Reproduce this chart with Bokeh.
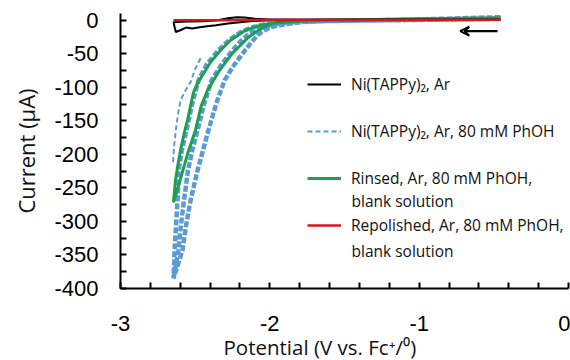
from bokeh.plotting import figure
from bokeh.models import (FixedTicker, Legend, LegendItem, Label, Arrow, VeeHead, Title)
from bokeh.embed import file_html
from bokeh.resources import INLINE

# ---- data ----
# Ni(TAPPy)2, Ar  (forward sweep then reverse sweep)
black_v = [-0.455, -1.0, -1.5, -2.0, -2.1, -2.17, -2.22, -2.28, -2.35, -2.45, -2.55, -2.62, -2.645,
           -2.63, -2.6, -2.56, -2.52, -2.47, -2.42, -2.36, -2.28, -2.2, -2.1, -2.0, -1.5, -0.455]
black_i = [1.0, 1.0, 1.0, 1.0, 2.0, 4.0, 4.5, 3.0, 0.0, -1.5, -2.0, -2.5, -3.0,
           -17.5, -15.0, -11.0, -12.5, -10.5, -9.0, -7.5, -5.0, -3.0, -1.0, 0.0, 0.5, 0.5]

# Ni(TAPPy)2, Ar, 80 mM PhOH  (multi-cycle trace: forward, reverse, forward)
blue_v = [-0.455, -1.125, -1.6, -1.794, -1.9, -1.995, -2.04, -2.082, -2.12, -2.149, -2.2, -2.25, -2.303,
          -2.36, -2.411, -2.45, -2.484, -2.531, -2.56, -2.585, -2.645,
          -2.64, -2.638, -2.628, -2.618, -2.61, -2.59, -2.558, -2.52, -2.478, -2.42, -2.344, -2.27,
          -2.196, -2.13, -2.062, -1.95, -1.794, -1.125, -0.455,
          -1.125, -1.794, -1.92, -2.029, -2.08, -2.136, -2.19, -2.25, -2.32, -2.39, -2.44, -2.484,
          -2.52, -2.548, -2.575, -2.595, -2.612, -2.645]
blue_i = [4.5, 0.5, -1.0, -3.0, -6.0, -10.4, -15.5, -22.4, -32.0, -40.0, -55.0, -70.0, -89.6,
          -125.0, -164.2, -196.0, -223.9, -268.7, -305.0, -343.0, -385.0,
          -360.0, -343.0, -305.0, -268.7, -224.0, -195.0, -164.2, -125.0, -89.6, -65.0, -44.8, -29.0,
          -17.9, -11.5, -7.5, -3.5, -1.5, 0.0, 2.2,
          0.5, -2.0, -5.0, -9.0, -13.0, -19.4, -30.0, -44.8, -65.0, -89.6, -125.0, -164.2,
          -195.0, -223.9, -268.7, -305.0, -343.0, -385.0]
# first-cycle segment of the same solution (thin dashed)
blue1_v = [-2.464, -2.5, -2.531, -2.565, -2.598, -2.615, -2.63, -2.642, -2.648]
blue1_i = [-56.7, -73.0, -92.5, -105.0, -119.4, -140.0, -165.0, -190.0, -213.0]

# Rinsed, Ar, 80 mM PhOH, blank solution
green_v = [-0.455, -1.2, -1.6, -1.8, -1.9, -1.975, -2.03, -2.096, -2.15, -2.196, -2.25, -2.297, -2.34,
           -2.377, -2.417, -2.46, -2.498, -2.545, -2.585, -2.615, -2.645,
           -2.632, -2.615, -2.598, -2.575, -2.551, -2.531, -2.511, -2.49, -2.464, -2.397, -2.33,
           -2.263, -2.163, -2.062, -1.928, -1.66, -1.125, -0.455]
green_i = [3.7, 1.5, 0.0, -1.5, -3.0, -4.5, -9.0, -17.9, -27.0, -37.3, -49.0, -62.7, -76.0,
           -89.6, -104.5, -128.0, -164.0, -195.0, -226.0, -250.0, -271.6,
           -238.8, -215.0, -194.0, -170.0, -149.0, -128.0, -107.5, -97.0, -86.6, -62.7, -44.8,
           -29.9, -14.9, -7.5, -3.0, 0.0, 0.7, 2.2]

# Repolished, Ar, 80 mM PhOH, blank solution
red_v = [-2.645, -2.3, -2.0, -1.5, -1.0, -0.455]
red_i = [0.0, 0.0, 0.2, 0.3, 0.4, 0.5]

x_major = [-3, -2, -1, 0]
x_minor = [-2.8, -2.6, -2.4, -2.2, -1.8, -1.6, -1.4, -1.2, -0.8, -0.6, -0.4, -0.2]
y_major = [0, -50, -100, -150, -200, -250, -300, -350, -400]
y_minor = [-25, -75, -125, -175, -225, -275, -325, -375]

x_title = "Potential (V vs. Fc\u207a/\u2070)"
y_title = "Current (\u03bcA)"
legend_labels = ["Ni(TAPPy)\u2082, Ar", "Ni(TAPPy)\u2082, Ar, 80 mM PhOH",
                 "Rinsed, Ar, 80 mM PhOH,", "Repolished, Ar, 80 mM PhOH,"]
second_line = "blank solution"

BLACK = "#000000"
BLUE = "#5b9bd5"
GREEN = "#1f9e50"
RED = "#d8141c"

TICK_FONT = "Liberation Sans"
TEXT_FONT = "Open Sans"

p = figure(width=570, height=360, output_backend="svg", toolbar_location=None,
           x_range=(-3, 0), y_range=(-400, 10),
           min_border_left=120, min_border_right=2, min_border_top=13, min_border_bottom=72)
p.outline_line_color = None
p.xgrid.visible = False
p.ygrid.visible = False
p.background_fill_color = "white"
p.border_fill_color = "white"

r_blue = p.line(blue_v, blue_i, line_color=BLUE, line_width=4.5, line_dash="6 2")
r_blue1 = p.line(blue1_v, blue1_i, line_color=BLUE, line_width=2, line_dash="5 3")
r_green = p.line(green_v, green_i, line_color=GREEN, line_width=3)
r_black = p.line(black_v, black_i, line_color=BLACK, line_width=2)
r_red = p.line(red_v, red_i, line_color=RED, line_width=2.5)

p.add_layout(Arrow(end=VeeHead(size=9, line_width=2, line_color=BLACK, fill_alpha=0),
                   x_start=-0.475, y_start=-16.4, x_end=-0.725, y_end=-16.4,
                   line_width=2.2, line_color=BLACK))

# axes
xa = p.xaxis[0]
xa.ticker = FixedTicker(ticks=x_major, minor_ticks=x_minor)
xa.major_label_overrides = {t: str(t) for t in x_major}
xa.major_tick_in = 6
xa.major_tick_out = 0
xa.minor_tick_in = 6
xa.minor_tick_out = 0
xa.axis_line_width = 2
xa.major_tick_line_width = 2
xa.minor_tick_line_width = 2
xa.major_label_standoff = 27
xa.major_label_text_font = TICK_FONT
xa.major_label_text_font_size = "22px"
xa.major_label_text_color = BLACK

ya = p.yaxis[0]
ya.ticker = FixedTicker(ticks=y_major, minor_ticks=y_minor)
ya.major_label_overrides = {t: str(t) for t in y_major}
ya.major_tick_in = 6
ya.major_tick_out = 0
ya.minor_tick_in = 6
ya.minor_tick_out = 0
ya.axis_line_width = 2
ya.major_tick_line_width = 2
ya.minor_tick_line_width = 2
ya.major_label_standoff = 22
ya.major_label_text_font = TICK_FONT
ya.major_label_text_font_size = "22px"
ya.major_label_text_color = BLACK
ya.axis_label = y_title
ya.axis_label_text_font = TEXT_FONT
ya.axis_label_text_font_size = "22px"
ya.axis_label_text_font_style = "normal"
ya.axis_label_text_color = "#111111"
ya.axis_label_standoff = 10

# x-axis title (the original centres it on a wider, cropped plot, so place it by offset)
p.add_layout(Title(text=x_title, align="left", offset=103, standoff=-6,
                   text_font=TEXT_FONT, text_font_size="20.5px", text_font_style="normal",
                   text_color="#111111"), "below")

# legend: one row per entry (uneven row spacing as in the original)
rows = [(legend_labels[0], [r_black], 193),
        (legend_labels[1], [r_blue1], 146),
        (legend_labels[2], [r_green], 99),
        (legend_labels[3], [r_red], 52)]
for lab, rends, vy in rows:
    lg = Legend(items=[LegendItem(label=lab, renderers=rends)], location=(187, vy),
                padding=0, margin=0, spacing=0, border_line_color=None,
                background_fill_alpha=0, glyph_width=34, glyph_height=20,
                label_height=20, label_standoff=10,
                label_text_font=TEXT_FONT, label_text_font_size="15.5px",
                label_text_color="#111111")
    p.add_layout(lg)

for y in (88, 38):
    p.add_layout(Label(x=231, y=y, x_units="screen", y_units="screen", text=second_line,
                       text_font=TEXT_FONT, text_font_size="15.5px", text_color="#111111",
                       text_baseline="middle"))

open("out.html", "w").write(file_html(p, INLINE))
